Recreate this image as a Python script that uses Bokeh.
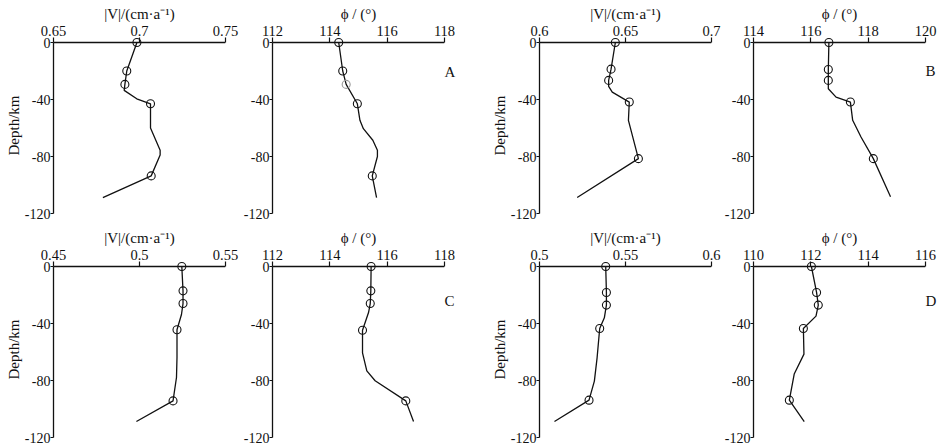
from bokeh.plotting import figure
from bokeh.layouts import row, column
from bokeh.models import Range1d, FixedTicker, LinearAxis, Span
from bokeh.embed import file_html
from bokeh.resources import INLINE

# ---------------- data ----------------
depth_ticks = [0, -40, -80, -120]
depth_tick_labels = ["0", "-40", "-80", "-120"]

# Panel A
A_v_ticks = [0.65, 0.7, 0.75]
A_v_tick_labels = ["0.65", "0.7", "0.75"]
A_phi_ticks = [112, 114, 116, 118]
A_phi_tick_labels = ["112", "114", "116", "118"]
A_mark_depth = [0, -20, -29.4, -43, -93.6]
A_mark_v = [0.6985, 0.6926, 0.6915, 0.7064, 0.7068]
A_mark_phi = [114.31, 114.45, 114.57, 114.96, 115.48]
A_line_v_depth = [0, -20, -29.4, -33.6, -39.5, -43, -60, -75.6, -79, -93.6, -108.8]
A_line_v = [0.6985, 0.6926, 0.6915, 0.6911, 0.6984, 0.7064, 0.7064, 0.7120, 0.7120, 0.7068, 0.6787]
A_line_phi_depth = [0, -20, -29.4, -43, -54.6, -60.5, -68.6, -75.6, -80, -93.6, -108.8]
A_line_phi = [114.31, 114.45, 114.57, 114.96, 115.05, 115.17, 115.50, 115.66, 115.66, 115.48, 115.63]

# Panel B
B_v_ticks = [0.6, 0.65, 0.7]
B_v_tick_labels = ["0.6", "0.65", "0.7"]
B_phi_ticks = [114, 116, 118, 120]
B_phi_tick_labels = ["114", "116", "118", "120"]
B_mark_v_depth = [0, -18.7, -26.6, -41.8, -81.5]
B_mark_v = [0.6441, 0.6416, 0.6402, 0.6522, 0.6575]
B_mark_phi_depth = [0, -18.9, -26.6, -41.8, -81.5]
B_mark_phi = [116.63, 116.61, 116.61, 117.38, 118.18]
B_line_v_depth = [0, -18.7, -26.6, -30.8, -34.8, -41.8, -54.6, -81.5, -108.8]
B_line_v = [0.6441, 0.6416, 0.6402, 0.6402, 0.6423, 0.6522, 0.6517, 0.6575, 0.6219]
B_line_phi_depth = [0, -18.9, -26.6, -32.5, -38.3, -41.8, -54.6, -66.3, -81.5, -108.3]
B_line_phi = [116.63, 116.61, 116.61, 116.61, 116.88, 117.38, 117.46, 117.75, 118.18, 118.78]

# Panel C
C_v_ticks = [0.45, 0.5, 0.55]
C_v_tick_labels = ["0.45", "0.5", "0.55"]
C_phi_ticks = [112, 114, 116, 118]
C_phi_tick_labels = ["112", "114", "116", "118"]
C_mark_v_depth = [0, -17.1, -26, -44.4, -94.3]
C_mark_v = [0.5246, 0.5253, 0.5253, 0.5218, 0.5195]
C_mark_phi_depth = [0, -17.1, -26, -44.7, -94.3]
C_mark_phi = [115.44, 115.43, 115.41, 115.14, 116.65]
C_line_v_depth = [0, -17.1, -26, -33.7, -44.4, -63.9, -77.9, -94.3, -108.8]
C_line_v = [0.5246, 0.5253, 0.5253, 0.5244, 0.5218, 0.5218, 0.5215, 0.5195, 0.4982]
C_line_phi_depth = [0, -17.1, -26, -32.3, -44.7, -60.6, -73.2, -80.2, -94.3, -108.8]
C_line_phi = [115.44, 115.43, 115.41, 115.35, 115.14, 115.14, 115.29, 115.58, 116.65, 116.92]

# Panel D
D_v_ticks = [0.5, 0.55, 0.6]
D_v_tick_labels = ["0.5", "0.55", "0.6"]
D_phi_ticks = [110, 112, 114, 116]
D_phi_tick_labels = ["110", "112", "114", "116"]
D_mark_depth = [0, -18.2, -27.1, -43.5, -93.8]
D_mark_v = [0.5385, 0.5389, 0.5389, 0.5350, 0.5288]
D_mark_phi = [112.02, 112.20, 112.26, 111.74, 111.25]
D_line_v_depth = [0, -18.2, -27.1, -36, -43.5, -63.9, -80.4, -93.8, -108.8]
D_line_v = [0.5385, 0.5389, 0.5389, 0.5377, 0.5350, 0.5335, 0.5319, 0.5288, 0.5087]
D_line_phi_depth = [0, -18.2, -27.1, -34.8, -43.5, -61.5, -75.5, -93.8, -108.8]
D_line_phi = [112.02, 112.20, 112.26, 112.18, 111.74, 111.76, 111.42, 111.25, 111.77]

A_faint_marker = 2  # index of the pale marker in panel A (phi)

V_TITLE = "|V|/(cm·a⁻¹)"
PHI_TITLE = "ϕ / (°)"
FONT = "Liberation Serif"
INK = "#111111"

FW = 172
TICK_IN = 5                      # px between frame top and the zero line
FH = 171 + TICK_IN
Y_TOP = TICK_IN * 120 / 171
TOP = 37


def make_panel(ticks, tick_labels, title, mark_x, mark_d, line_x, line_d,
               left, right, bottom, depth_label=False, letter=None,
               letter_depth=-20, letter_gap=0, faint=None):
    p = figure(frame_width=FW, frame_height=FH,
               x_range=Range1d(ticks[0], ticks[-1]), y_range=Range1d(-120, Y_TOP),
               x_axis_location="above", output_backend="svg",
               toolbar_location=None, min_border_left=left,
               min_border_right=right, min_border_top=TOP,
               min_border_bottom=bottom)
    p.outline_line_color = None
    p.grid.visible = False
    p.background_fill_color = "white"
    p.border_fill_color = "white"

    xa = p.xaxis[0]
    xa.ticker = FixedTicker(ticks=ticks)
    xa.major_label_overrides = {t: l for t, l in zip(ticks, tick_labels)}
    xa.axis_label = title
    ya = p.yaxis[0]
    ya.ticker = FixedTicker(ticks=depth_ticks)
    ya.major_label_overrides = {t: l for t, l in zip(depth_ticks, depth_tick_labels)}
    ya.bounds = (-120, 0)
    if depth_label:
        ya.axis_label = "Depth/km"
    for ax in (xa, ya):
        ax.axis_line_color = INK
        ax.axis_line_width = 1.3
        ax.major_tick_line_color = INK
        ax.major_tick_line_width = 1.2
        ax.major_tick_in = 0
        ax.major_tick_out = 3
        ax.minor_tick_line_color = None
        ax.major_label_text_font = FONT
        ax.major_label_text_color = INK
        ax.major_label_standoff = 1
        ax.axis_label_text_font = FONT
        ax.axis_label_text_font_size = "15px"
        ax.axis_label_text_font_style = "normal"
        ax.axis_label_text_color = INK
        ax.axis_label_standoff = 1
    xa.major_label_text_font_size = "14.5px"
    ya.major_label_text_font_size = "14px"
    ya.major_label_standoff = 0
    ya.axis_label_standoff = 0
    # x axis drawn at depth 0: ticks at the frame top reach down to the zero line
    xa.axis_line_color = None
    xa.major_tick_out = 0
    xa.major_tick_in = TICK_IN
    xa.major_label_standoff = 2
    p.add_layout(Span(location=0, dimension="width", line_color=INK, line_width=1.3))

    p.line(line_x, line_d, line_color=INK, line_width=1.3)
    colors = [INK] * len(mark_x)
    if faint is not None:
        colors[faint] = "#9a9a9a"
    p.scatter(mark_x, mark_d, marker="circle", size=8, fill_color=None,
              line_color=colors, line_width=1.1)
    if letter:
        lax = LinearAxis(ticker=FixedTicker(ticks=[letter_depth]),
                         major_label_overrides={letter_depth: letter},
                         axis_line_color=None, major_tick_line_color=None,
                         minor_tick_line_color=None, major_tick_in=0,
                         major_tick_out=0, major_label_standoff=letter_gap,
                         major_label_text_font=FONT,
                         major_label_text_font_size="15px",
                         major_label_text_color=INK)
        p.add_layout(lax, "right")
    return p


a1 = make_panel(A_v_ticks, A_v_tick_labels, V_TITLE, A_mark_v, A_mark_depth,
                A_line_v, A_line_v_depth, 53, 15, 11, depth_label=True)
a2 = make_panel(A_phi_ticks, A_phi_tick_labels, PHI_TITLE, A_mark_phi, A_mark_depth,
                A_line_phi, A_line_phi_depth, 32, 42, 11, letter="A",
                letter_depth=-21, letter_gap=0, faint=A_faint_marker)
b1 = make_panel(B_v_ticks, B_v_tick_labels, V_TITLE, B_mark_v, B_mark_v_depth,
                B_line_v, B_line_v_depth, 53, 10, 11, depth_label=True)
b2 = make_panel(B_phi_ticks, B_phi_tick_labels, PHI_TITLE, B_mark_phi, B_mark_phi_depth,
                B_line_phi, B_line_phi_depth, 32, 14, 11, letter="B",
                letter_depth=-20, letter_gap=0)
c1 = make_panel(C_v_ticks, C_v_tick_labels, V_TITLE, C_mark_v, C_mark_v_depth,
                C_line_v, C_line_v_depth, 53, 15, 11, depth_label=True)
c2 = make_panel(C_phi_ticks, C_phi_tick_labels, PHI_TITLE, C_mark_phi, C_mark_phi_depth,
                C_line_phi, C_line_phi_depth, 32, 42, 11, letter="C",
                letter_depth=-24, letter_gap=0)
d1 = make_panel(D_v_ticks, D_v_tick_labels, V_TITLE, D_mark_v, D_mark_depth,
                D_line_v, D_line_v_depth, 53, 10, 11, depth_label=True)
d2 = make_panel(D_phi_ticks, D_phi_tick_labels, PHI_TITLE, D_mark_phi, D_mark_depth,
                D_line_phi, D_line_phi_depth, 32, 14, 11, letter="D",
                letter_depth=-24, letter_gap=0)

layout = column(row(a1, a2, b1, b2), row(c1, c2, d1, d2))
open("out.html", "w").write(file_html(layout, INLINE))
